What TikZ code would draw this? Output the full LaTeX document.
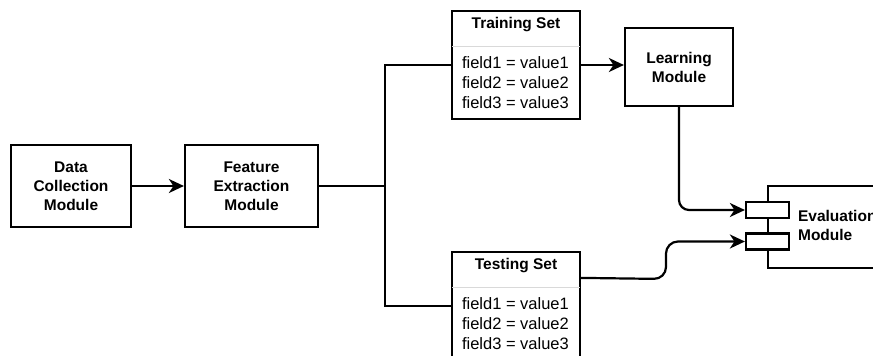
\documentclass[tikz,border=0pt]{standalone}
\usepackage{fontspec}
\setmainfont{Liberation Sans}
\usetikzlibrary{positioning,arrows.meta,calc}

\begin{document}
\begin{tikzpicture}[x=1pt, y=-1pt, line width=2.2pt,
    module/.style={draw, align=center, inner sep=0pt, font=\fontsize{15.5}{19}\selectfont\bfseries},
    setbox/.style={draw, minimum width=128pt, minimum height=108pt, inner sep=0pt},
    settitle/.style={font=\fontsize{15.5}{19}\selectfont\bfseries},
    fields/.style={align=left, inner sep=0pt, anchor=north west, font=\fontsize{16.5}{20}\selectfont},
    port/.style={draw, fill=white, minimum width=43pt, minimum height=16pt, inner sep=0pt},
    link/.style={-{Stealth[length=15pt, width=14pt, inset=4.5pt]}}]
    \useasboundingbox (0,0) rectangle (873,356);
    \clip (0,0) rectangle (873,356);
    \node (dc) [module, minimum width=120pt, minimum height=82pt] at (71,186) {Data\\Collection\\Module};
    \node (fe) [module, minimum width=133pt, minimum height=82pt] at (251.5,186) {Feature\\Extraction\\Module};
    \node (train) [setbox] at (516,65) {};
    \node (test) [setbox] at (516,306) {};
    \node (learn) [module, minimum width=108pt, minimum height=78pt] at (679,67) {Learning\\Module};
    \node (eval) [draw, anchor=north west, minimum width=140pt, minimum height=82pt] at (767,185) {};
    \node (p1) [port] at (767.5,210) {};
    \node (p2) [port] at (767.5,241.5) {};
    \node (evtxt) [module, draw=none, align=left, anchor=west] at (797,225) {Evaluation\\Module};
    \node (traintitle) [settitle] at ($(train.north)+(0,15)$) {Training Set};
    \node (trainfields) [fields] at ($(train.north west)+(10,46)$) {field1 = value1\\field2 = value2\\field3 = value3};
    \node (testtitle) [settitle] at ($(test.north)+(0,15)$) {Testing Set};
    \node (testfields) [fields] at ($(test.north west)+(10,46)$) {field1 = value1\\field2 = value2\\field3 = value3};
    \draw [line width=0.8pt, gray!30] ($(train.north west)+(1.5,36)$) -- ($(train.north east)+(-1.5,36)$);
    \draw [line width=0.8pt, gray!30] ($(test.north west)+(1.5,36)$) -- ($(test.north east)+(-1.5,36)$);
    \coordinate (split) at (385,186);
    \coordinate (testout) at ($(test.north east)+(0,27)$);
    \draw [link] (dc) -- (fe);
    \draw (fe) -- (split);
    \draw (split) |- (train);
    \draw (split) |- (test);
    \draw [link] (train) -- (train -| learn.west);
    \draw [link, rounded corners=10pt] (learn) |- (p1);
    \draw [link, rounded corners=12pt] (testout) -- (666,279) -- (666,241.5) -- (p2);
\end{tikzpicture}
\end{document}
